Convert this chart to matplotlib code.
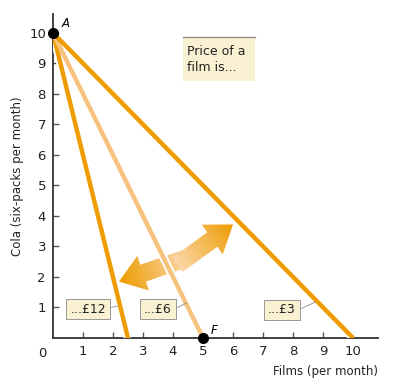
import matplotlib
matplotlib.use("Agg")
import matplotlib.pyplot as plt
from matplotlib.patches import FancyArrow, Rectangle
from matplotlib.colors import LinearSegmentedColormap
import numpy as np

# ---- data ----
films_max = [2.5, 5.0, 10.0]          # x-intercepts of budget lines
cola_max = 10.0
price_labels = ["...£12", "...£6", "...£3"]
line_colors = ["#EE9C00", "#F7C27E", "#EE9C00"]
label_pos = [(1.17, 0.95), (3.5, 0.95), (7.63, 0.92)]
leader_ends = [(2.15, 1.05), (4.45, 1.15), (8.75, 1.18)]
xticks = list(range(1, 11))
yticks = list(range(1, 11))

fig = plt.figure(figsize=(3.95, 3.91), dpi=100)
ax = fig.add_axes([0.134, 0.1355, 0.823, 0.829])
ax.set_xlim(0, 10.83)
ax.set_ylim(0, 10.62)

# ---- gradient arrows ----
cmap = LinearSegmentedColormap.from_list("og", ["#FAD6A8", "#EE9C00"])

def grad_arrow(x0, y0, x1, y1):
    dx, dy = x1 - x0, y1 - y0
    arr = FancyArrow(x0, y0, dx, dy, width=0.58, head_width=1.2,
                     head_length=0.85, length_includes_head=True,
                     facecolor="none", edgecolor="none", zorder=2)
    ax.add_patch(arr)
    gx, gy = np.meshgrid(np.linspace(0, 10.83, 300), np.linspace(0, 10.62, 300))
    L = dx * dx + dy * dy
    t = ((gx - x0) * dx + (gy - y0) * dy) / L
    im = ax.imshow(np.clip(t, 0, 1), extent=(0, 10.83, 0, 10.62), origin="lower",
                   cmap=cmap, vmin=0, vmax=1, aspect="auto", zorder=2)
    im.set_clip_path(arr)

grad_arrow(4.4, 2.6, 2.2, 1.85)

# ---- budget lines ----
for xm, c in zip(films_max, line_colors):
    ax.plot([0, xm], [cola_max, 0], color="white", lw=6, zorder=3,
            solid_capstyle="butt")
    ax.plot([0, xm], [cola_max, 0], color=c, lw=3.2, zorder=4,
            solid_capstyle="butt")

grad_arrow(4.15, 2.4, 6.0, 3.72)

# ---- price boxes ----
for (lx, ly), (ex, ey), txt in zip(label_pos, leader_ends, price_labels):
    ax.text(lx, ly, txt, ha="center", va="center", fontsize=9, color="#222222",
            bbox=dict(boxstyle="square,pad=0.3", fc="#FAF0D2", ec="#888888", lw=0.6),
            zorder=6)
    ax.plot([lx + len(txt) * 0.13, ex], [ly + 0.05, ey], color="#777777",
            lw=0.5, zorder=5)

ax.add_patch(Rectangle((4.33, 8.43), 2.4, 1.44, fc="#FAF0D2", ec="none", zorder=6))
ax.plot([4.33, 6.73], [9.87, 9.87], color="#888888", lw=0.9, zorder=7)
ax.text(4.47, 9.6, "Price of a\nfilm is...", ha="left", va="top", fontsize=9,
        color="#222222", linespacing=1.25, zorder=7)

# ---- points ----
ax.plot([0], [cola_max], "o", color="black", ms=7, zorder=8, clip_on=False)
ax.plot([5], [0], "o", color="black", ms=7, zorder=8, clip_on=False)
ax.text(0.3, 10.2, "A", fontsize=8.5, style="italic", zorder=8)
ax.text(5.25, 0.12, "F", fontsize=8.5, style="italic", zorder=8)

# ---- axes styling ----
for s in ["top", "right"]:
    ax.spines[s].set_visible(False)
for s in ["left", "bottom"]:
    ax.spines[s].set_linewidth(1.3)
    ax.spines[s].set_color("#333333")
ax.set_xticks(xticks)
ax.set_yticks(yticks)
ax.tick_params(direction="in", length=4, width=1, color="#555555",
               labelsize=9.5, labelcolor="#222222", pad=5)
ax.text(-0.35, -0.5, "0", ha="center", va="center", fontsize=9.5, color="#222222")

ax.set_ylabel("Cola (six-packs per month)", fontsize=8.5, color="#222222", labelpad=4)
ax.text(10.83, -1.1, "Films (per month)", ha="right", va="center",
        fontsize=8.5, color="#222222")

plt.savefig("out.png", dpi=100)
